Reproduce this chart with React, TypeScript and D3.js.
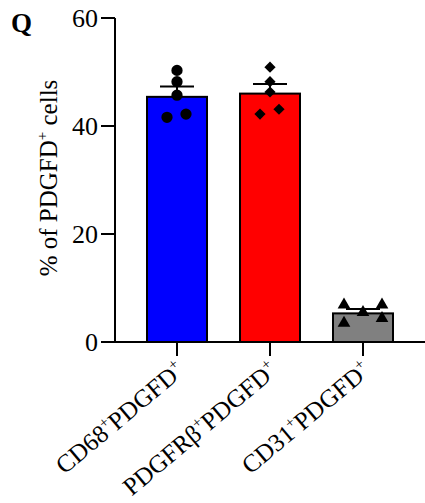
import React from "react";
import * as d3 from "d3";

const categories = ["CD68", "PDGFRβ", "CD31"];
const barMeans = [45.4, 46.0, 5.3];
const barSems = [1.9, 1.8, 0.8];
const barColors = ["#0000ff", "#ff0000", "#808080"];
const markerShapes = ["circle", "diamond", "triangle"];
const points = [
  [50.3, 48.2, 45.7, 41.6, 42.2],
  [50.9, 48.2, 46.3, 42.2, 43.1],
  [6.9, 6.9, 5.5, 4.4, 3.5],
];
const pointOffsets = [
  [0, 0, 0, -10, 9],
  [0, 0, 0, -10, 9],
  [-19, 19, 0, 19, -19],
];
const yTicks = [0, 20, 40, 60];

export default function App() {
  const W = 425, H = 503;
  const y = d3.scaleLinear().domain([0, 60]).range([342, 18]);
  const x = d3.scalePoint<string>().domain(categories).range([177, 363]);
  const axisX = 115;
  const barW = 60;
  const font = "'Liberation Serif', 'Times New Roman', serif";
  const sym = {
    circle: d3.symbol(d3.symbolCircle, 100)(),
    diamond: d3.symbol(d3.symbolDiamond2, 80)(),
    triangle: d3.symbol(d3.symbolTriangle, 70)(),
  } as Record<string, string>;
  return (
    <svg width={W} height={H} style={{ position: "absolute", left: 0, top: 0 }} fontFamily={font}>
      <text x={11} y={32} fontSize={27} fontWeight="bold">Q</text>
      {/* y axis */}
      <line x1={axisX} x2={axisX} y1={y(60)} y2={y(0)} stroke="#000" strokeWidth={2} />
      {yTicks.map((t) => (
        <g key={t}>
          <line x1={axisX - 14} x2={axisX} y1={y(t)} y2={y(t)} stroke="#000" strokeWidth={2} />
          <text x={axisX - 17} y={y(t)} dy="0.35em" textAnchor="end" fontSize={26}>{t}</text>
        </g>
      ))}
      <text transform={`translate(57,178) rotate(-90)`} textAnchor="middle" fontSize={25}>
        % of PDGFD<tspan dy={-10} fontSize={15}>+</tspan><tspan dy={10}> cells</tspan>
      </text>
      {/* bars */}
      {categories.map((c, i) => {
        const cx = x(c)!;
        return (
          <g key={c}>
            <rect x={cx - barW / 2} y={y(barMeans[i])} width={barW} height={y(0) - y(barMeans[i])}
              fill={barColors[i]} stroke="#000" strokeWidth={2} />
            <line x1={cx} x2={cx} y1={y(barMeans[i])} y2={y(barMeans[i] + barSems[i])} stroke="#000" strokeWidth={2} />
            <line x1={cx - 17} x2={cx + 17} y1={y(barMeans[i] + barSems[i])} y2={y(barMeans[i] + barSems[i])} stroke="#000" strokeWidth={2} />
            {points[i].map((v, j) => (
              <path key={j} d={sym[markerShapes[i]]} transform={`translate(${cx + pointOffsets[i][j]},${y(v)})`} fill="#000" />
            ))}
            <line x1={cx} x2={cx} y1={y(0)} y2={y(0) + 14} stroke="#000" strokeWidth={2} />
            <text transform={`translate(${cx + 9},${y(0) + 31}) rotate(-40)`} textAnchor="end" fontSize={25}>
              {c}<tspan dy={-10} fontSize={15}>+</tspan><tspan dy={10}>PDGFD</tspan><tspan dy={-10} fontSize={15}>+</tspan>
            </text>
          </g>
        );
      })}
      {/* x axis */}
      <line x1={axisX - 14} x2={W} y1={y(0)} y2={y(0)} stroke="#000" strokeWidth={2} />
    </svg>
  );
}
